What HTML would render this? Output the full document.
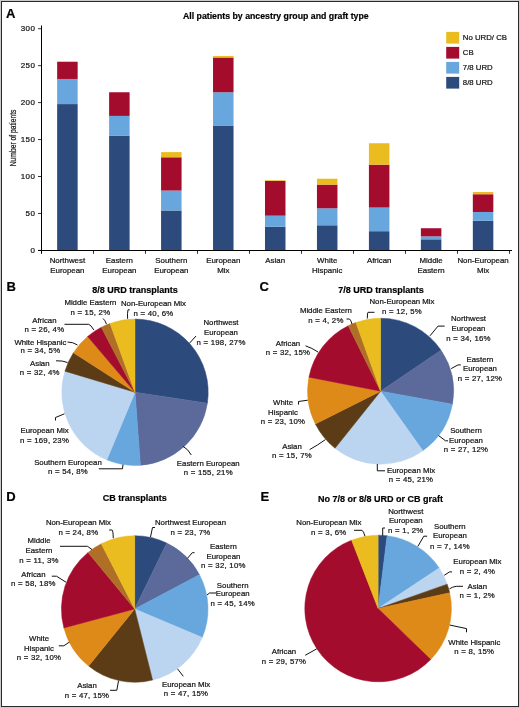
<!DOCTYPE html>
<html><head><meta charset="utf-8"><style>
html,body{margin:0;padding:0;background:#cbcbcb;}
body{width:520px;height:708px;overflow:hidden;position:relative;}
.frame{position:absolute;left:1px;top:1px;width:516px;height:704px;border:1px solid #2a2a2a;background:#fff;}
svg{position:absolute;left:0;top:0;will-change:transform;font-family:"Liberation Sans", sans-serif;fill:#1a1a1a;}
svg text{fill:#141414;stroke:#141414;stroke-width:0.22px;}
svg text[font-weight="bold"]{fill:#000;stroke:#000;stroke-width:0.2px;}
</style></head><body>
<div class="frame"></div>
<svg width="520" height="708" viewBox="0 0 520 708">
<rect x="57.15" y="104.08" width="20.5" height="146.32" fill="#2D4A7C"/>
<rect x="57.15" y="78.95" width="20.5" height="25.13" fill="#67A7DD"/>
<rect x="57.15" y="61.96" width="20.5" height="17.00" fill="#A40C2D"/>
<rect x="57.15" y="61.22" width="20.5" height="0.74" fill="#EBBC1F"/>
<text x="67.40" y="263.4" font-size="7.9" text-anchor="middle" font-weight="normal" >Northwest</text>
<text x="67.40" y="272.79999999999995" font-size="7.9" text-anchor="middle" font-weight="normal" >European</text>
<rect x="109.11" y="135.86" width="20.5" height="114.54" fill="#2D4A7C"/>
<rect x="109.11" y="115.90" width="20.5" height="19.95" fill="#67A7DD"/>
<rect x="109.11" y="92.25" width="20.5" height="23.65" fill="#A40C2D"/>
<text x="119.36" y="263.4" font-size="7.9" text-anchor="middle" font-weight="normal" >Eastern</text>
<text x="119.36" y="272.79999999999995" font-size="7.9" text-anchor="middle" font-weight="normal" >European</text>
<rect x="161.07" y="210.49" width="20.5" height="39.91" fill="#2D4A7C"/>
<rect x="161.07" y="190.54" width="20.5" height="19.95" fill="#67A7DD"/>
<rect x="161.07" y="157.29" width="20.5" height="33.25" fill="#A40C2D"/>
<rect x="161.07" y="152.11" width="20.5" height="5.17" fill="#EBBC1F"/>
<text x="171.32" y="263.4" font-size="7.9" text-anchor="middle" font-weight="normal" >Southern</text>
<text x="171.32" y="272.79999999999995" font-size="7.9" text-anchor="middle" font-weight="normal" >European</text>
<rect x="213.03" y="125.51" width="20.5" height="124.89" fill="#2D4A7C"/>
<rect x="213.03" y="92.25" width="20.5" height="33.25" fill="#67A7DD"/>
<rect x="213.03" y="57.52" width="20.5" height="34.73" fill="#A40C2D"/>
<rect x="213.03" y="56.04" width="20.5" height="1.48" fill="#EBBC1F"/>
<text x="223.28" y="263.4" font-size="7.9" text-anchor="middle" font-weight="normal" >European</text>
<text x="223.28" y="272.79999999999995" font-size="7.9" text-anchor="middle" font-weight="normal" >Mix</text>
<rect x="264.99" y="226.75" width="20.5" height="23.65" fill="#2D4A7C"/>
<rect x="264.99" y="215.67" width="20.5" height="11.09" fill="#67A7DD"/>
<rect x="264.99" y="180.93" width="20.5" height="34.73" fill="#A40C2D"/>
<rect x="264.99" y="180.19" width="20.5" height="0.74" fill="#EBBC1F"/>
<text x="275.24" y="263.4" font-size="7.9" text-anchor="middle" font-weight="normal" >Asian</text>
<rect x="316.95" y="225.27" width="20.5" height="25.13" fill="#2D4A7C"/>
<rect x="316.95" y="208.28" width="20.5" height="17.00" fill="#67A7DD"/>
<rect x="316.95" y="184.63" width="20.5" height="23.65" fill="#A40C2D"/>
<rect x="316.95" y="178.72" width="20.5" height="5.91" fill="#EBBC1F"/>
<text x="327.20" y="263.4" font-size="7.9" text-anchor="middle" font-weight="normal" >White</text>
<text x="327.20" y="272.79999999999995" font-size="7.9" text-anchor="middle" font-weight="normal" >Hispanic</text>
<rect x="368.91" y="231.19" width="20.5" height="19.21" fill="#2D4A7C"/>
<rect x="368.91" y="207.54" width="20.5" height="23.65" fill="#67A7DD"/>
<rect x="368.91" y="164.68" width="20.5" height="42.86" fill="#A40C2D"/>
<rect x="368.91" y="143.25" width="20.5" height="21.43" fill="#EBBC1F"/>
<text x="379.16" y="263.4" font-size="7.9" text-anchor="middle" font-weight="normal" >African</text>
<rect x="420.87" y="239.31" width="20.5" height="11.09" fill="#2D4A7C"/>
<rect x="420.87" y="236.36" width="20.5" height="2.96" fill="#67A7DD"/>
<rect x="420.87" y="228.23" width="20.5" height="8.13" fill="#A40C2D"/>
<text x="431.12" y="263.4" font-size="7.9" text-anchor="middle" font-weight="normal" >Middle</text>
<text x="431.12" y="272.79999999999995" font-size="7.9" text-anchor="middle" font-weight="normal" >Eastern</text>
<rect x="472.83" y="220.84" width="20.5" height="29.56" fill="#2D4A7C"/>
<rect x="472.83" y="211.97" width="20.5" height="8.87" fill="#67A7DD"/>
<rect x="472.83" y="194.24" width="20.5" height="17.74" fill="#A40C2D"/>
<rect x="472.83" y="192.02" width="20.5" height="2.22" fill="#EBBC1F"/>
<text x="483.08" y="263.4" font-size="7.9" text-anchor="middle" font-weight="normal" >Non-European</text>
<text x="483.08" y="272.79999999999995" font-size="7.9" text-anchor="middle" font-weight="normal" >Mix</text>
<path d="M41.5 25.5 V253.5 M41 250.5 H512 M38 250.5 H41" stroke="#000" stroke-width="1" fill="none"/>
<path d="M38 250.40 H41" stroke="#000" stroke-width="0.8"/>
<text x="35.3" y="252.70" font-size="8.0" text-anchor="end" font-weight="normal" letter-spacing="0.4">0</text>
<path d="M38 213.45 H41" stroke="#000" stroke-width="0.8"/>
<text x="35.3" y="215.75" font-size="8.0" text-anchor="end" font-weight="normal" letter-spacing="0.4">50</text>
<path d="M38 176.50 H41" stroke="#000" stroke-width="0.8"/>
<text x="35.3" y="178.80" font-size="8.0" text-anchor="end" font-weight="normal" letter-spacing="0.4">100</text>
<path d="M38 139.55 H41" stroke="#000" stroke-width="0.8"/>
<text x="35.3" y="141.85" font-size="8.0" text-anchor="end" font-weight="normal" letter-spacing="0.4">150</text>
<path d="M38 102.60 H41" stroke="#000" stroke-width="0.8"/>
<text x="35.3" y="104.90" font-size="8.0" text-anchor="end" font-weight="normal" letter-spacing="0.4">200</text>
<path d="M38 65.65 H41" stroke="#000" stroke-width="0.8"/>
<text x="35.3" y="67.95" font-size="8.0" text-anchor="end" font-weight="normal" letter-spacing="0.4">250</text>
<path d="M38 28.70 H41" stroke="#000" stroke-width="0.8"/>
<text x="35.3" y="31.00" font-size="8.0" text-anchor="end" font-weight="normal" letter-spacing="0.4">300</text>
<path d="M41.50 250.5 V253.8" stroke="#000" stroke-width="0.8"/>
<path d="M93.50 250.5 V253.8" stroke="#000" stroke-width="0.8"/>
<path d="M145.50 250.5 V253.8" stroke="#000" stroke-width="0.8"/>
<path d="M197.50 250.5 V253.8" stroke="#000" stroke-width="0.8"/>
<path d="M249.50 250.5 V253.8" stroke="#000" stroke-width="0.8"/>
<path d="M301.50 250.5 V253.8" stroke="#000" stroke-width="0.8"/>
<path d="M353.50 250.5 V253.8" stroke="#000" stroke-width="0.8"/>
<path d="M405.50 250.5 V253.8" stroke="#000" stroke-width="0.8"/>
<path d="M457.50 250.5 V253.8" stroke="#000" stroke-width="0.8"/>
<path d="M509.50 250.5 V253.8" stroke="#000" stroke-width="0.8"/>
<text transform="translate(15.8,137.9) rotate(-90) scale(0.722,1)" font-size="9.3" text-anchor="middle">Number of patients</text>
<text x="275.8" y="19.2" font-size="8.75" text-anchor="middle" font-weight="bold" >All patients by ancestry group and graft type</text>
<text x="6" y="18" font-size="13" text-anchor="start" font-weight="bold" >A</text>
<rect x="446.2" y="31.90" width="13" height="11.7" fill="#EBBC1F"/>
<text x="462.8" y="40.10" font-size="7.8" text-anchor="start" font-weight="normal" >No URD/ CB</text>
<rect x="446.2" y="46.90" width="13" height="11.7" fill="#A40C2D"/>
<text x="462.8" y="55.10" font-size="7.8" text-anchor="start" font-weight="normal" >CB</text>
<rect x="446.2" y="61.90" width="13" height="11.7" fill="#67A7DD"/>
<text x="462.8" y="70.10" font-size="7.8" text-anchor="start" font-weight="normal" >7/8 URD</text>
<rect x="446.2" y="76.90" width="13" height="11.7" fill="#2D4A7C"/>
<text x="462.8" y="85.10" font-size="7.8" text-anchor="start" font-weight="normal" >8/8 URD</text>
<path d="M135 392.3 L135.00 319.10 A73.2 73.2 0 0 1 207.38 403.23 Z" fill="#2D4A7C" stroke="#2D4A7C" stroke-width="0.5" stroke-linejoin="round"/>
<path d="M135 392.3 L207.38 403.23 A73.2 73.2 0 0 1 140.40 465.30 Z" fill="#5C6A9B" stroke="#5C6A9B" stroke-width="0.5" stroke-linejoin="round"/>
<path d="M135 392.3 L140.40 465.30 A73.2 73.2 0 0 1 106.80 459.85 Z" fill="#67A7DD" stroke="#67A7DD" stroke-width="0.5" stroke-linejoin="round"/>
<path d="M135 392.3 L106.80 459.85 A73.2 73.2 0 0 1 64.93 371.14 Z" fill="#BBD4F0" stroke="#BBD4F0" stroke-width="0.5" stroke-linejoin="round"/>
<path d="M135 392.3 L64.93 371.14 A73.2 73.2 0 0 1 73.43 352.71 Z" fill="#5C3C16" stroke="#5C3C16" stroke-width="0.5" stroke-linejoin="round"/>
<path d="M135 392.3 L73.43 352.71 A73.2 73.2 0 0 1 87.62 336.50 Z" fill="#DE8A18" stroke="#DE8A18" stroke-width="0.5" stroke-linejoin="round"/>
<path d="M135 392.3 L87.62 336.50 A73.2 73.2 0 0 1 101.33 327.30 Z" fill="#A40C2D" stroke="#A40C2D" stroke-width="0.5" stroke-linejoin="round"/>
<path d="M135 392.3 L101.33 327.30 A73.2 73.2 0 0 1 110.06 323.48 Z" fill="#B06F26" stroke="#B06F26" stroke-width="0.5" stroke-linejoin="round"/>
<path d="M135 392.3 L110.06 323.48 A73.2 73.2 0 0 1 135.00 319.10 Z" fill="#EBBC1F" stroke="#EBBC1F" stroke-width="0.5" stroke-linejoin="round"/>
<path d="M380.6 391.2 L380.60 318.20 A73.0 73.0 0 0 1 441.04 350.26 Z" fill="#2D4A7C" stroke="#2D4A7C" stroke-width="0.5" stroke-linejoin="round"/>
<path d="M380.6 391.2 L441.04 350.26 A73.0 73.0 0 0 1 452.43 404.22 Z" fill="#5C6A9B" stroke="#5C6A9B" stroke-width="0.5" stroke-linejoin="round"/>
<path d="M380.6 391.2 L452.43 404.22 A73.0 73.0 0 0 1 422.83 450.75 Z" fill="#67A7DD" stroke="#67A7DD" stroke-width="0.5" stroke-linejoin="round"/>
<path d="M380.6 391.2 L422.83 450.75 A73.0 73.0 0 0 1 335.03 448.23 Z" fill="#BBD4F0" stroke="#BBD4F0" stroke-width="0.5" stroke-linejoin="round"/>
<path d="M380.6 391.2 L335.03 448.23 A73.0 73.0 0 0 1 315.39 424.01 Z" fill="#5C3C16" stroke="#5C3C16" stroke-width="0.5" stroke-linejoin="round"/>
<path d="M380.6 391.2 L315.39 424.01 A73.0 73.0 0 0 1 308.96 377.15 Z" fill="#DE8A18" stroke="#DE8A18" stroke-width="0.5" stroke-linejoin="round"/>
<path d="M380.6 391.2 L308.96 377.15 A73.0 73.0 0 0 1 348.25 325.76 Z" fill="#A40C2D" stroke="#A40C2D" stroke-width="0.5" stroke-linejoin="round"/>
<path d="M380.6 391.2 L348.25 325.76 A73.0 73.0 0 0 1 355.96 322.48 Z" fill="#B06F26" stroke="#B06F26" stroke-width="0.5" stroke-linejoin="round"/>
<path d="M380.6 391.2 L355.96 322.48 A73.0 73.0 0 0 1 380.60 318.20 Z" fill="#EBBC1F" stroke="#EBBC1F" stroke-width="0.5" stroke-linejoin="round"/>
<path d="M134.7 609 L134.70 535.70 A73.3 73.3 0 0 1 166.78 543.09 Z" fill="#2D4A7C" stroke="#2D4A7C" stroke-width="0.5" stroke-linejoin="round"/>
<path d="M134.7 609 L166.78 543.09 A73.3 73.3 0 0 1 199.46 574.67 Z" fill="#5C6A9B" stroke="#5C6A9B" stroke-width="0.5" stroke-linejoin="round"/>
<path d="M134.7 609 L199.46 574.67 A73.3 73.3 0 0 1 202.25 637.47 Z" fill="#67A7DD" stroke="#67A7DD" stroke-width="0.5" stroke-linejoin="round"/>
<path d="M134.7 609 L202.25 637.47 A73.3 73.3 0 0 1 152.57 680.09 Z" fill="#BBD4F0" stroke="#BBD4F0" stroke-width="0.5" stroke-linejoin="round"/>
<path d="M134.7 609 L152.57 680.09 A73.3 73.3 0 0 1 88.64 666.02 Z" fill="#5C3C16" stroke="#5C3C16" stroke-width="0.5" stroke-linejoin="round"/>
<path d="M134.7 609 L88.64 666.02 A73.3 73.3 0 0 1 63.88 627.91 Z" fill="#DE8A18" stroke="#DE8A18" stroke-width="0.5" stroke-linejoin="round"/>
<path d="M134.7 609 L63.88 627.91 A73.3 73.3 0 0 1 88.08 552.44 Z" fill="#A40C2D" stroke="#A40C2D" stroke-width="0.5" stroke-linejoin="round"/>
<path d="M134.7 609 L88.08 552.44 A73.3 73.3 0 0 1 101.33 543.74 Z" fill="#B06F26" stroke="#B06F26" stroke-width="0.5" stroke-linejoin="round"/>
<path d="M134.7 609 L101.33 543.74 A73.3 73.3 0 0 1 134.70 535.70 Z" fill="#EBBC1F" stroke="#EBBC1F" stroke-width="0.5" stroke-linejoin="round"/>
<path d="M378.1 608.5 L378.10 535.20 A73.3 73.3 0 0 1 387.11 535.76 Z" fill="#2D4A7C" stroke="#2D4A7C" stroke-width="0.5" stroke-linejoin="round"/>
<path d="M378.1 608.5 L387.11 535.76 A73.3 73.3 0 0 1 439.20 568.01 Z" fill="#67A7DD" stroke="#67A7DD" stroke-width="0.5" stroke-linejoin="round"/>
<path d="M378.1 608.5 L439.20 568.01 A73.3 73.3 0 0 1 447.23 584.14 Z" fill="#BBD4F0" stroke="#BBD4F0" stroke-width="0.5" stroke-linejoin="round"/>
<path d="M378.1 608.5 L447.23 584.14 A73.3 73.3 0 0 1 449.70 592.82 Z" fill="#5C3C16" stroke="#5C3C16" stroke-width="0.5" stroke-linejoin="round"/>
<path d="M378.1 608.5 L449.70 592.82 A73.3 73.3 0 0 1 430.72 659.53 Z" fill="#DE8A18" stroke="#DE8A18" stroke-width="0.5" stroke-linejoin="round"/>
<path d="M378.1 608.5 L430.72 659.53 A73.3 73.3 0 1 1 351.62 540.15 Z" fill="#A40C2D" stroke="#A40C2D" stroke-width="0.5" stroke-linejoin="round"/>
<path d="M378.1 608.5 L351.62 540.15 A73.3 73.3 0 0 1 378.10 535.20 Z" fill="#EBBC1F" stroke="#EBBC1F" stroke-width="0.5" stroke-linejoin="round"/>
<text x="6.5" y="291.2" font-size="13" text-anchor="start" font-weight="bold" >B</text>
<text x="135" y="292.5" font-size="9" text-anchor="middle" font-weight="bold" >8/8 URD transplants</text>
<text x="90.4" y="305" font-size="7.8" text-anchor="middle" font-weight="normal" >Middle Eastern</text>
<text x="90.4" y="315" font-size="7.8" text-anchor="middle" font-weight="normal" letter-spacing="0.25">n = 15, 2%</text>
<path d="M103 318.5 Q105 320 106.5 324.2" stroke="#111" stroke-width="1" fill="none"/>
<text x="44.4" y="323.3" font-size="7.8" text-anchor="middle" font-weight="normal" >African</text>
<text x="44.4" y="332.3" font-size="7.8" text-anchor="middle" font-weight="normal" letter-spacing="0.25">n = 26, 4%</text>
<path d="M64.5 324.3 H88.7 Q91 325 93.8 330" stroke="#111" stroke-width="1" fill="none"/>
<text x="40.4" y="344.5" font-size="7.8" text-anchor="middle" font-weight="normal" >White Hispanic</text>
<text x="40.4" y="353.4" font-size="7.8" text-anchor="middle" font-weight="normal" letter-spacing="0.25">n = 34, 5%</text>
<path d="M67.5 342 Q73 342 77.5 345" stroke="#111" stroke-width="1" fill="none"/>
<text x="39.8" y="365.5" font-size="7.8" text-anchor="middle" font-weight="normal" >Asian</text>
<text x="39.8" y="374.5" font-size="7.8" text-anchor="middle" font-weight="normal" letter-spacing="0.25">n = 32, 4%</text>
<path d="M56 360.8 Q63 360.5 67.5 362.5" stroke="#111" stroke-width="1" fill="none"/>
<text x="153.5" y="305.9" font-size="7.8" text-anchor="middle" font-weight="normal" >Non-European Mix</text>
<text x="153.5" y="316" font-size="7.8" text-anchor="middle" font-weight="normal" letter-spacing="0.25">n = 40, 6%</text>
<path d="M129.6 309.8 H128 Q127.2 313 127.6 318.8" stroke="#111" stroke-width="1" fill="none"/>
<text x="221" y="324.6" font-size="7.8" text-anchor="middle" font-weight="normal" >Northwest</text>
<text x="221" y="334.7" font-size="7.8" text-anchor="middle" font-weight="normal" >European</text>
<text x="221" y="344.8" font-size="7.8" text-anchor="middle" font-weight="normal" letter-spacing="0.25">n = 198, 27%</text>
<path d="M196 336 L189.3 343.4" stroke="#111" stroke-width="1" fill="none"/>
<text x="44.5" y="433.3" font-size="7.8" text-anchor="middle" font-weight="normal" >European Mix</text>
<text x="44.5" y="442.5" font-size="7.8" text-anchor="middle" font-weight="normal" letter-spacing="0.25">n = 169, 23%</text>
<path d="M55.5 420.5 V417.5 L64.5 413.8" stroke="#111" stroke-width="1" fill="none"/>
<text x="68" y="464.5" font-size="7.8" text-anchor="middle" font-weight="normal" >Southern European</text>
<text x="68" y="473.8" font-size="7.8" text-anchor="middle" font-weight="normal" letter-spacing="0.25">n = 54, 8%</text>
<path d="M98.8 468.8 H122.5 L123 464.5" stroke="#111" stroke-width="1" fill="none"/>
<text x="208.3" y="465.5" font-size="7.8" text-anchor="middle" font-weight="normal" >Eastern European</text>
<text x="208.3" y="475" font-size="7.8" text-anchor="middle" font-weight="normal" letter-spacing="0.25">n = 155, 21%</text>
<path d="M183 446.3 Q188 449 191.3 455" stroke="#111" stroke-width="1" fill="none"/>
<text x="259.5" y="291.3" font-size="13" text-anchor="start" font-weight="bold" >C</text>
<text x="380.9" y="292.5" font-size="9" text-anchor="middle" font-weight="bold" >7/8 URD transplants</text>
<text x="325.9" y="312.5" font-size="7.8" text-anchor="middle" font-weight="normal" >Middle Eastern</text>
<text x="325.9" y="322.5" font-size="7.8" text-anchor="middle" font-weight="normal" letter-spacing="0.25">n = 4, 2%</text>
<path d="M346.5 319 H349.5 Q351 320 352 324.2" stroke="#111" stroke-width="1" fill="none"/>
<text x="288" y="345.8" font-size="7.8" text-anchor="middle" font-weight="normal" >African</text>
<text x="288" y="355" font-size="7.8" text-anchor="middle" font-weight="normal" letter-spacing="0.25">n = 32, 15%</text>
<path d="M305.5 345.8 Q312 348 318 352" stroke="#111" stroke-width="1" fill="none"/>
<text x="402" y="304.4" font-size="7.8" text-anchor="middle" font-weight="normal" >Non-European Mix</text>
<text x="402" y="314.1" font-size="7.8" text-anchor="middle" font-weight="normal" letter-spacing="0.25">n = 12, 5%</text>
<path d="M374.5 312.3 H368 Q367.3 312.5 367.3 318.5" stroke="#111" stroke-width="1" fill="none"/>
<text x="468.5" y="321.3" font-size="7.8" text-anchor="middle" font-weight="normal" >Northwest</text>
<text x="468.5" y="330.8" font-size="7.8" text-anchor="middle" font-weight="normal" >European</text>
<text x="468.5" y="341" font-size="7.8" text-anchor="middle" font-weight="normal" letter-spacing="0.25">n = 34, 16%</text>
<path d="M444.7 326.1 H438 L430 335.8" stroke="#111" stroke-width="1" fill="none"/>
<text x="480" y="361.7" font-size="7.8" text-anchor="middle" font-weight="normal" >Eastern</text>
<text x="480" y="371.2" font-size="7.8" text-anchor="middle" font-weight="normal" >European</text>
<text x="480" y="381.3" font-size="7.8" text-anchor="middle" font-weight="normal" letter-spacing="0.25">n = 27, 12%</text>
<path d="M460.8 364.9 H458 L451.2 368.6" stroke="#111" stroke-width="1" fill="none"/>
<text x="466" y="433.3" font-size="7.8" text-anchor="middle" font-weight="normal" >Southern</text>
<text x="466" y="442.7" font-size="7.8" text-anchor="middle" font-weight="normal" >European</text>
<text x="466" y="452.1" font-size="7.8" text-anchor="middle" font-weight="normal" letter-spacing="0.25">n = 27, 12%</text>
<path d="M438.5 435.5 L445.5 440.8 H448" stroke="#111" stroke-width="1" fill="none"/>
<text x="411" y="472.7" font-size="7.8" text-anchor="middle" font-weight="normal" >European Mix</text>
<text x="411" y="481.9" font-size="7.8" text-anchor="middle" font-weight="normal" letter-spacing="0.25">n = 45, 21%</text>
<path d="M385 470.8 H377.3 V464" stroke="#111" stroke-width="1" fill="none"/>
<text x="283" y="405" font-size="7.8" text-anchor="middle" font-weight="normal" >White</text>
<text x="283" y="414.6" font-size="7.8" text-anchor="middle" font-weight="normal" >Hispanic</text>
<text x="283" y="424.2" font-size="7.8" text-anchor="middle" font-weight="normal" letter-spacing="0.25">n = 23, 10%</text>
<path d="M298.5 404.6 V401.5 L307.7 400.2" stroke="#111" stroke-width="1" fill="none"/>
<text x="292" y="448.7" font-size="7.8" text-anchor="middle" font-weight="normal" >Asian</text>
<text x="292" y="457.9" font-size="7.8" text-anchor="middle" font-weight="normal" letter-spacing="0.25">n = 15, 7%</text>
<path d="M309.6 449.6 Q318 445 325.4 439.6" stroke="#111" stroke-width="1" fill="none"/>
<text x="6.3" y="500.8" font-size="13" text-anchor="start" font-weight="bold" >D</text>
<text x="134.8" y="501.3" font-size="9" text-anchor="middle" font-weight="bold" >CB transplants</text>
<text x="78.4" y="525" font-size="7.8" text-anchor="middle" font-weight="normal" >Non-European Mix</text>
<text x="78.4" y="535" font-size="7.8" text-anchor="middle" font-weight="normal" letter-spacing="0.25">n = 24, 8%</text>
<path d="M109.2 530 H112.2 Q113 530.5 113.3 538.2" stroke="#111" stroke-width="1" fill="none"/>
<text x="39" y="543" font-size="7.8" text-anchor="middle" font-weight="normal" >Middle</text>
<text x="39" y="552.5" font-size="7.8" text-anchor="middle" font-weight="normal" >Eastern</text>
<text x="39" y="562.5" font-size="7.8" text-anchor="middle" font-weight="normal" letter-spacing="0.25">n = 11, 3%</text>
<path d="M60 546.3 H87.5 L92 549.5" stroke="#111" stroke-width="1" fill="none"/>
<text x="33.4" y="577" font-size="7.8" text-anchor="middle" font-weight="normal" >African</text>
<text x="33.4" y="586.3" font-size="7.8" text-anchor="middle" font-weight="normal" letter-spacing="0.25">n = 58, 18%</text>
<path d="M51.8 576.2 H56.5 L66 582.2" stroke="#111" stroke-width="1" fill="none"/>
<text x="39" y="641.3" font-size="7.8" text-anchor="middle" font-weight="normal" >White</text>
<text x="39" y="650.5" font-size="7.8" text-anchor="middle" font-weight="normal" >Hispanic</text>
<text x="39" y="660" font-size="7.8" text-anchor="middle" font-weight="normal" letter-spacing="0.25">n = 32, 10%</text>
<path d="M58.8 645.8 H63.8 L69.5 642" stroke="#111" stroke-width="1" fill="none"/>
<text x="87" y="688" font-size="7.8" text-anchor="middle" font-weight="normal" >Asian</text>
<text x="87" y="697.5" font-size="7.8" text-anchor="middle" font-weight="normal" letter-spacing="0.25">n = 47, 15%</text>
<path d="M110 690.3 H116.8 L118.5 680.8" stroke="#111" stroke-width="1" fill="none"/>
<text x="190.5" y="525" font-size="7.8" text-anchor="middle" font-weight="normal" >Northwest European</text>
<text x="190.5" y="535" font-size="7.8" text-anchor="middle" font-weight="normal" letter-spacing="0.25">n = 23, 7%</text>
<path d="M155 527.5 H152.5 L150.5 537" stroke="#111" stroke-width="1" fill="none"/>
<text x="223.4" y="548.8" font-size="7.8" text-anchor="middle" font-weight="normal" >Eastern</text>
<text x="223.4" y="558.8" font-size="7.8" text-anchor="middle" font-weight="normal" >European</text>
<text x="223.4" y="568" font-size="7.8" text-anchor="middle" font-weight="normal" letter-spacing="0.25">n = 32, 10%</text>
<path d="M194.5 552.7 H192.3 L187.3 558.5" stroke="#111" stroke-width="1" fill="none"/>
<text x="232.7" y="587.5" font-size="7.8" text-anchor="middle" font-weight="normal" >Southern</text>
<text x="232.7" y="596.3" font-size="7.8" text-anchor="middle" font-weight="normal" >European</text>
<text x="232.7" y="606.3" font-size="7.8" text-anchor="middle" font-weight="normal" letter-spacing="0.25">n = 45, 14%</text>
<path d="M216 593 H209.5 L207 595" stroke="#111" stroke-width="1" fill="none"/>
<text x="186" y="687" font-size="7.8" text-anchor="middle" font-weight="normal" >European Mix</text>
<text x="186" y="696.3" font-size="7.8" text-anchor="middle" font-weight="normal" letter-spacing="0.25">n = 47, 15%</text>
<path d="M177.5 668.8 L183.3 676.3" stroke="#111" stroke-width="1" fill="none"/>
<text x="260.5" y="501.2" font-size="13" text-anchor="start" font-weight="bold" >E</text>
<text x="380.6" y="501.7" font-size="9" text-anchor="middle" font-weight="bold" >No 7/8 or 8/8 URD or CB graft</text>
<text x="328.8" y="524.8" font-size="7.8" text-anchor="middle" font-weight="normal" >Non-European Mix</text>
<text x="328.8" y="534.8" font-size="7.8" text-anchor="middle" font-weight="normal" letter-spacing="0.25">n = 3, 6%</text>
<path d="M354 530.3 H362 Q363.5 531 365 536.2" stroke="#111" stroke-width="1" fill="none"/>
<text x="405.8" y="514.1" font-size="7.8" text-anchor="middle" font-weight="normal" >Northwest</text>
<text x="405.8" y="523.2" font-size="7.8" text-anchor="middle" font-weight="normal" >European</text>
<text x="405.8" y="532.9" font-size="7.8" text-anchor="middle" font-weight="normal" letter-spacing="0.25">n = 1, 2%</text>
<path d="M385 528 H382.7 V535.8" stroke="#111" stroke-width="1" fill="none"/>
<text x="449.9" y="529.4" font-size="7.8" text-anchor="middle" font-weight="normal" >Southern</text>
<text x="449.9" y="538.3" font-size="7.8" text-anchor="middle" font-weight="normal" >European</text>
<text x="449.9" y="549.1" font-size="7.8" text-anchor="middle" font-weight="normal" letter-spacing="0.25">n = 7, 14%</text>
<path d="M427.1 536.2 H423.8 L417.9 546.4" stroke="#111" stroke-width="1" fill="none"/>
<text x="477.4" y="564.4" font-size="7.8" text-anchor="middle" font-weight="normal" >European Mix</text>
<text x="477.4" y="573.9" font-size="7.8" text-anchor="middle" font-weight="normal" letter-spacing="0.25">n = 2, 4%</text>
<path d="M452 571.9 H449.5 L444.3 575.3" stroke="#111" stroke-width="1" fill="none"/>
<text x="477.3" y="588.8" font-size="7.8" text-anchor="middle" font-weight="normal" >Asian</text>
<text x="477.3" y="598" font-size="7.8" text-anchor="middle" font-weight="normal" letter-spacing="0.25">n = 1, 2%</text>
<path d="M463 586.3 H456.3 Q452 587 449.5 588.8" stroke="#111" stroke-width="1" fill="none"/>
<text x="474.3" y="644.5" font-size="7.8" text-anchor="middle" font-weight="normal" >White Hispanic</text>
<text x="474.3" y="653.8" font-size="7.8" text-anchor="middle" font-weight="normal" letter-spacing="0.25">n = 8, 15%</text>
<path d="M449.7 625 L466.5 628.6 V632.3" stroke="#111" stroke-width="1" fill="none"/>
<text x="284" y="653.8" font-size="7.8" text-anchor="middle" font-weight="normal" >African</text>
<text x="284" y="663.5" font-size="7.8" text-anchor="middle" font-weight="normal" letter-spacing="0.25">n = 29, 57%</text>
<path d="M305.2 655.3 L316.8 648.8" stroke="#111" stroke-width="1" fill="none"/>
</svg>
</body></html>
